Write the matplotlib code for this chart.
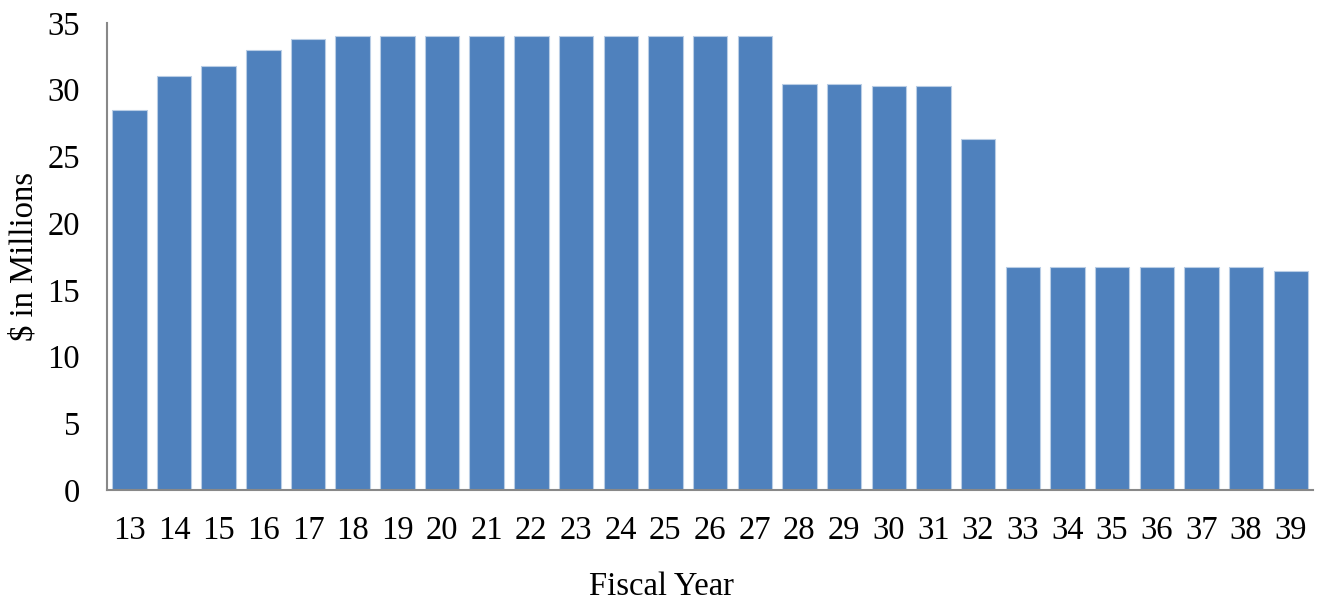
import matplotlib.pyplot as plt

plt.rcParams['font.family'] = ['Liberation Serif', 'DejaVu Serif']

years = [str(y) for y in range(13, 40)]
values = [28.5, 31.0, 31.8, 33.0, 33.8,
          34.0, 34.0, 34.0, 34.0, 34.0, 34.0, 34.0, 34.0, 34.0, 34.0,
          30.4, 30.4, 30.3, 30.3, 26.3,
          16.7, 16.7, 16.7, 16.7, 16.7, 16.7, 16.4]
y_ticks = [0, 5, 10, 15, 20, 25, 30, 35]

fig = plt.figure(figsize=(13.21, 6.04), dpi=100)
ax = fig.add_axes([0.081, 0.1887, 0.913, 0.7733])

x = range(len(years))
ax.bar(x, values, width=0.77, color='#4F81BD', edgecolor='#B9CDE5', linewidth=0.8)

ax.set_xlim(-0.5, len(years) - 0.5)
ax.set_ylim(0, 35)
ax.set_xticks(list(x))
ax.set_xticklabels(years)
ax.set_yticks(y_ticks)
ax.tick_params(axis='both', length=0, labelsize=23.5, colors='black')
ax.tick_params(axis='x', pad=18)
ax.tick_params(axis='y', pad=19.5)

for side in ['top', 'right']:
    ax.spines[side].set_visible(False)
for side in ['left', 'bottom']:
    ax.spines[side].set_color('#888888')
    ax.spines[side].set_linewidth(1.5)

# axis titles placed by hand so they sit where the original has them
ax.set_xlabel('Fiscal Year', fontsize=23.5)
ax.xaxis.set_label_coords(0.46, -0.174)
ax.set_ylabel('$ in Millions', fontsize=23.5)
ax.yaxis.set_label_coords(-0.0556, 0.5)

fig.savefig('out.png', dpi=100)
